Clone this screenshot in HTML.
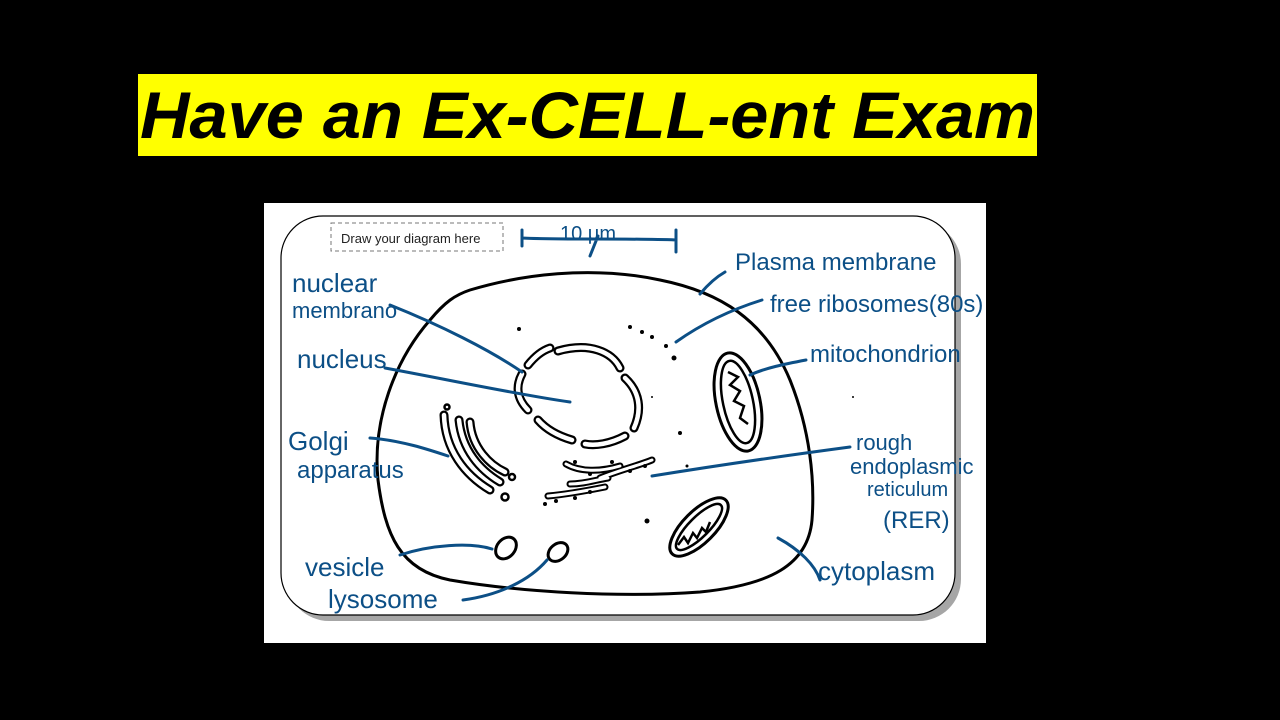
<!DOCTYPE html>
<html><head><style>
html,body{margin:0;padding:0;background:#000;width:1280px;height:720px;overflow:hidden}
</style></head><body>
<svg width="1280" height="720" viewBox="0 0 1280 720" xmlns="http://www.w3.org/2000/svg">
<rect width="1280" height="720" fill="#000"/>
<rect x="138" y="74" width="899" height="82" fill="#ffff00"/>
<text x="140" y="138" font-family="Liberation Sans, sans-serif" font-weight="bold" font-style="italic" font-size="66" fill="#000" textLength="895" lengthAdjust="spacingAndGlyphs">Have an Ex-CELL-ent  Exam</text>
<rect x="264" y="203" width="722" height="440" fill="#fff"/>
<rect x="287" y="222" width="674" height="399" rx="42" fill="#a6a6a6"/>
<rect x="281" y="216" width="674" height="399" rx="42" fill="#fff" stroke="#000" stroke-width="1.2"/>
<rect x="331" y="223" width="172" height="28" fill="#fff" stroke="#777" stroke-dasharray="4,3"/>
<text x="341" y="243" font-family="Liberation Sans, sans-serif" font-size="13" fill="#222">Draw your diagram here</text>
<path d="M470,290 C520,275 590,265 660,280 C720,292 765,320 790,380 C810,430 815,480 812,520 C808,565 770,585 700,592 C620,598 520,592 450,580 C400,570 385,535 378,480 C372,420 395,360 430,320 C445,302 455,295 470,290 Z" fill="none" stroke="#000" stroke-width="3"/>
<g stroke-linecap="round" fill="none">
<path stroke="#000" stroke-width="9" d="M558,351 C590,342 612,352 620,368 M625,378 C640,392 642,410 634,428 M625,436 C610,444 595,446 585,444 M572,440 C555,435 545,428 538,420 M528,410 C516,398 516,385 522,374 M528,365 C536,355 544,350 550,348 M444,415 C445,450 465,475 490,490 M459,420 C462,450 480,470 500,482 M470,422 C472,448 490,465 505,472"/>
<path stroke="#fff" stroke-width="4.5" d="M558,351 C590,342 612,352 620,368 M625,378 C640,392 642,410 634,428 M625,436 C610,444 595,446 585,444 M572,440 C555,435 545,428 538,420 M528,410 C516,398 516,385 522,374 M528,365 C536,355 544,350 550,348 M444,415 C445,450 465,475 490,490 M459,420 C462,450 480,470 500,482 M470,422 C472,448 490,465 505,472"/>
<path stroke="#000" stroke-width="7" d="M566,464 C580,472 600,472 620,466 M600,478 C620,470 640,465 652,460 M548,496 C570,494 590,490 605,487 M570,484 C585,484 595,480 608,478"/>
<path stroke="#fff" stroke-width="3" d="M566,464 C580,472 600,472 620,466 M600,478 C620,470 640,465 652,460 M548,496 C570,494 590,490 605,487 M570,484 C585,484 595,480 608,478"/>
</g>
<g fill="#000"><circle cx="575" cy="462" r="2"/><circle cx="590" cy="474" r="2"/><circle cx="612" cy="462" r="2"/><circle cx="630" cy="471" r="2"/><circle cx="645" cy="466" r="2"/><circle cx="556" cy="501" r="2"/><circle cx="575" cy="498" r="2"/><circle cx="590" cy="492" r="2"/><circle cx="545" cy="504" r="2"/></g>
<g fill="none" stroke="#000" stroke-width="2.5"><circle cx="512" cy="477" r="3"/><circle cx="505" cy="497" r="3.5"/><circle cx="447" cy="407" r="2.5"/></g>
<g fill="#000"><circle cx="519" cy="329" r="2"/><circle cx="630" cy="327" r="2"/><circle cx="642" cy="332" r="2"/><circle cx="652" cy="337" r="2"/><circle cx="666" cy="346" r="2"/><circle cx="674" cy="358" r="2.5"/><circle cx="680" cy="433" r="2"/><circle cx="687" cy="466" r="1.5"/><circle cx="647" cy="521" r="2.5"/><circle cx="652" cy="397" r="1"/><circle cx="853" cy="397" r="1"/></g>
<ellipse cx="738" cy="402" rx="22" ry="50" transform="rotate(-12 738 402)" fill="none" stroke="#000" stroke-width="3"/>
<ellipse cx="738" cy="402" rx="15" ry="42" transform="rotate(-12 738 402)" fill="none" stroke="#000" stroke-width="2.5"/>
<path d="M728,372 l10,5 -8,8 10,6 -6,10 10,5 -4,12 8,6" fill="none" stroke="#000" stroke-width="2.5"/>
<ellipse cx="699" cy="527" rx="16" ry="38" transform="rotate(45 699 527)" fill="none" stroke="#000" stroke-width="3"/>
<ellipse cx="699" cy="527" rx="10" ry="31" transform="rotate(45 699 527)" fill="none" stroke="#000" stroke-width="2.5"/>
<path d="M678,545 l6,-8 4,6 5,-10 4,5 5,-10 4,4 4,-10" fill="none" stroke="#000" stroke-width="2.5"/>
<ellipse cx="506" cy="548" rx="9" ry="12" transform="rotate(40 506 548)" fill="#fff" stroke="#000" stroke-width="3"/>
<ellipse cx="558" cy="552" rx="8" ry="11" transform="rotate(50 558 552)" fill="#fff" stroke="#000" stroke-width="3"/>
<g fill="none" stroke="#0c4f86" stroke-width="3" stroke-linecap="round">
<path d="M522,230 V246 M522,238 C560,240 620,238 676,240 M676,230 V252 M598,236 L590,256"/>
<path d="M390,305 C440,325 490,350 522,372"/>
<path d="M385,368 C450,380 520,395 570,402"/>
<path d="M370,438 C400,440 430,450 448,456"/>
<path d="M700,294 C710,282 718,276 725,272"/>
<path d="M676,342 C700,325 730,310 762,300"/>
<path d="M750,375 C765,368 785,364 806,360"/>
<path d="M652,476 C720,465 790,455 850,447"/>
<path d="M778,538 C800,550 815,565 820,580"/>
<path d="M400,555 C430,545 470,542 492,549"/>
<path d="M463,600 C500,595 530,580 547,560"/>
</g>
<g font-family="Liberation Sans Narrow, Liberation Sans, sans-serif" fill="#0c4f86" font-size="26">
<text x="560" y="240" font-size="20">10 μm</text>
<text x="292" y="292">nuclear</text>
<text x="292" y="318" font-size="22">membrano</text>
<text x="297" y="368">nucleus</text>
<text x="288" y="450">Golgi</text>
<text x="297" y="478" font-size="24">apparatus</text>
<text x="305" y="576">vesicle</text>
<text x="328" y="608">lysosome</text>
<text x="735" y="270" font-size="24">Plasma membrane</text>
<text x="770" y="312" font-size="24">free ribosomes(80s)</text>
<text x="810" y="362" font-size="24">mitochondrion</text>
<text x="856" y="450" font-size="22">rough</text>
<text x="850" y="474" font-size="22">endoplasmic</text>
<text x="867" y="496" font-size="20">reticulum</text>
<text x="883" y="528" font-size="24">(RER)</text>
<text x="818" y="580" font-size="26">cytoplasm</text>
</g>
</svg>
</body></html>
